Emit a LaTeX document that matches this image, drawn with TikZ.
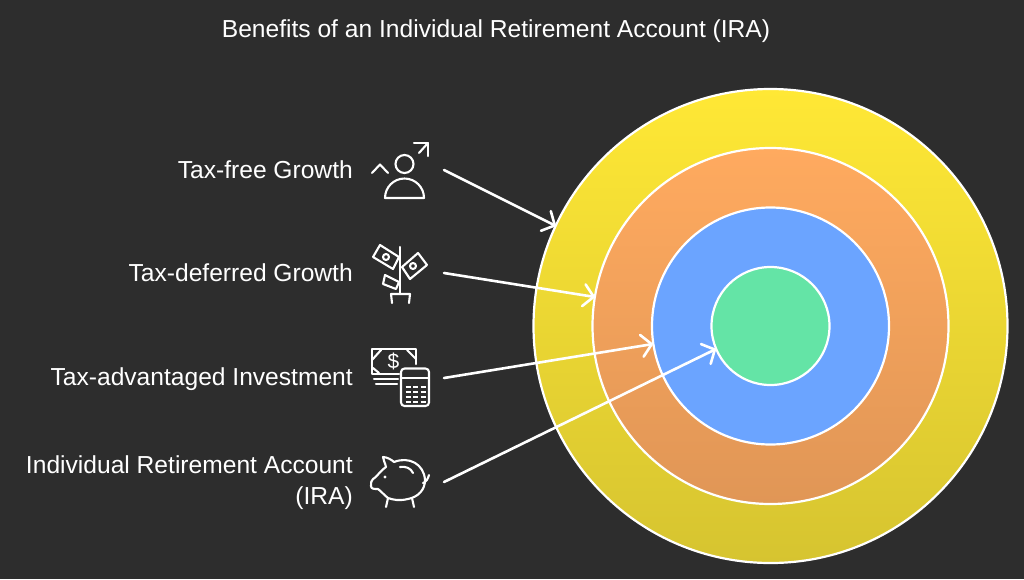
\documentclass[tikz,border=0pt]{standalone}
\usepackage{fontspec}
\setmainfont{Liberation Sans}
\usetikzlibrary{arrows.meta}
\definecolor{bgc}{HTML}{2D2D2D}
\tikzset{
  x=1pt,y=-1pt,
  ring/.style={draw=white,line width=2.2pt,circle,minimum size=#1,inner sep=0pt},
  lab/.style={text=white,font=\fontsize{24.6}{31}\selectfont,anchor=base east,inner sep=0pt},
  conn/.style={draw=white,line width=2.6pt,line cap=round,-{Straight Barb[length=10pt,width=22pt,line width=2.6pt,round]}},
  ico/.style={draw=white,line width=2.1pt,line cap=round,line join=round},
}
\begin{document}
\begin{tikzpicture}
\useasboundingbox (0,0) rectangle (1024,579);
\fill[bgc] (0,0) rectangle (1024,579);
\node[text=white,font=\fontsize{24.6}{27}\selectfont,inner sep=0pt,anchor=base] (title) at (496,37) {Benefits of an Individual Retirement Account (IRA)};
\node[ring=474pt,shading=axis,top color={rgb,255:red,255;green,232;blue,53},middle color={rgb,255:red,244;green,224;blue,50},bottom color={rgb,255:red,214;green,196;blue,48}] (r1) at (770.5,326) {};
\node[ring=356pt,shading=axis,top color={rgb,255:red,255;green,170;blue,95},middle color={rgb,255:red,251;green,167;blue,93},bottom color={rgb,255:red,224;green,150;blue,86}] (r2) at (770.5,326) {};
\node[ring=237pt,fill={rgb,255:red,107;green,164;blue,255}] (r3) at (770.5,326) {};
\node[ring=118pt,fill={rgb,255:red,100;green,228;blue,166}] (r4) at (770.5,326) {};
\node[lab] (t1) at (353,178) {Tax-free Growth};
\node[lab] (t2) at (353,281.5) {Tax-deferred Growth};
\node[lab] (t3) at (353,385) {Tax-advantaged Investment};
\node[lab,anchor=east,align=right] (t4) at (353,483) {Individual Retirement Account\\(IRA)};
\coordinate (s1) at (444,170);
\coordinate (e1) at (556,226);
\coordinate (s2) at (444,273);
\coordinate (e2) at (595,297);
\coordinate (s3) at (444,378);
\coordinate (e3) at (653,344);
\coordinate (s4) at (444,482);
\coordinate (e4) at (716,349);
\draw[conn] (s1) -- (e1);
\draw[conn] (s2) -- (e2);
\draw[conn] (s3) -- (e3);
\draw[conn] (s4) -- (e4);
% icon 1: person
\draw[ico] (404.5,164) circle (9);
\draw[ico] (385,198) -- (424,198) arc (0:-180:19.5 and 19.5) -- cycle;
\draw[ico] (372,173) -- (380,164.5) -- (388,173);
\draw[ico] (419,153) -- (428,143);
\draw[ico] (414,143) -- (428,143) -- (428,156);
% icon 2: plant
\draw[ico] (400,247) -- (400,294);
\draw[ico] (392,303) -- (391,294) -- (410,294) -- (409,303);
\draw[ico] (380,245) -- (399,257) -- (393,269) -- (373,257) -- cycle;
\draw[ico] (386,257) circle (3);
\draw[ico] (418,253) -- (427,265) -- (410,279) -- (402,267) -- cycle;
\draw[ico] (413,266) circle (3);
\draw[ico] (385,275) -- (399,282) -- (396,289) -- (383,284) -- cycle;
% icon 3: money and calculator
\draw[ico] (399,374) -- (372,374) -- (372,349) -- (416,349) -- (416,364);
\draw[ico] (372,360) -- (381,350);
\draw[ico] (407,350) -- (416,359);
\draw[ico] (373,368) -- (379,373);
\draw[ico] (374,379) -- (398,379);
\draw[ico] (376,384) -- (397,384);
\node[text=white,font=\fontsize{21}{21}\selectfont,inner sep=0pt] (dollar) at (393.5,361.5) {\$};
\draw[ico,fill=bgc,rounded corners=3.5pt] (401,368.5) rectangle (429,406);
\draw[ico] (401.5,378) -- (428.5,378);
\foreach \yy in {387,392,397,402}{\draw[white,line width=2.2pt,dash pattern=on 5pt off 2.5pt] (405.5,\yy) -- (426,\yy);}
% icon 4: piggy
\draw[ico] (386,467) .. controls (385,462) and (383,460) .. (383,457) .. controls (387,457) and (392,460) .. (394,462)
  .. controls (409,456) and (424,464) .. (425,480) .. controls (425,490) and (418,497) .. (408,499)
  .. controls (399,501) and (394,500) .. (388,498) .. controls (384,495) and (381,491) .. (378,489)
  .. controls (374,489) and (371,489) .. (371,486) .. controls (371,483) and (371,480) .. (373,479)
  .. controls (376,478) and (379,472) .. (386,467) -- cycle;
\draw[ico] (388,498) -- (386,507);
\draw[ico] (412,498) -- (414,507);
\draw[ico] (400,467) .. controls (405,466) and (411,468) .. (413,473);
\draw[ico] (423,483) .. controls (426,482) and (428,479) .. (429,475);
\fill[white] (385,477) circle (1.7);
\end{tikzpicture}
\end{document}
